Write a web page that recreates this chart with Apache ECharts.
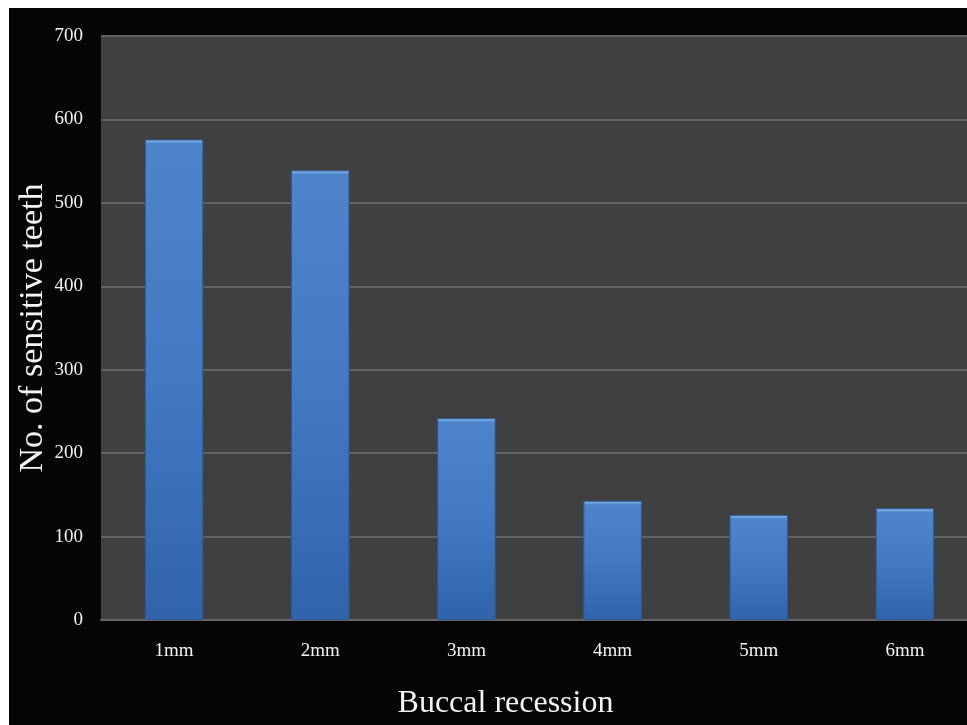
<!DOCTYPE html>
<html>
<head>
<meta charset="utf-8">
<script src="https://cdn.jsdelivr.net/npm/echarts@6/dist/echarts.min.js"></script>
<style>
  html, body { margin: 0; padding: 0; background: #ffffff; width: 967px; height: 725px; overflow: hidden; }
  #chart { position: absolute; left: 9px; top: 8px; width: 980px; height: 717px; background: #050505; }
</style>
</head>
<body>
<div id="chart"></div>
<script>
// Buccal recession categories and number of sensitive teeth in each
const categories = ['1mm', '2mm', '3mm', '4mm', '5mm', '6mm'];
const sensitiveTeeth = [576, 539, 242, 143, 126, 134];
const yTicks = { min: 0, max: 700, step: 100 };

const plotHeight = 584;
const pxPerUnit = plotHeight / (yTicks.max - yTicks.min);

// Bevelled blue bar: light rim at the top, darkening towards the base
function barStyle(v) {
  const h = v * pxPerUnit;
  const rim = Math.min(0.5, 4 / h);
  return {
    color: {
      type: 'linear', x: 0, y: 0, x2: 0, y2: 1,
      colorStops: [
        { offset: 0, color: '#8fbbec' },
        { offset: rim * 0.6, color: '#6d9fdb' },
        { offset: rim, color: '#4d84ca' },
        { offset: 0.5, color: '#4279c2' },
        { offset: 1, color: '#2f64ab' }
      ]
    },
    borderColor: '#2b5a98',
    borderWidth: 1
  };
}

const chart = echarts.init(document.getElementById('chart'), null, { renderer: 'canvas' });
const serif = "'Liberation Serif', 'DejaVu Serif', serif";

chart.setOption({
  backgroundColor: '#050505',
  animation: false,
  grid: {
    left: 92, top: 28, width: 877, height: plotHeight,
    show: true, backgroundColor: '#404040', borderWidth: 0,
    containLabel: false,
    outerBoundsMode: 'none'
  },
  xAxis: {
    type: 'category',
    data: categories,
    name: 'Buccal recession',
    nameLocation: 'middle',
    nameGap: 68,
    nameTextStyle: { color: '#f4f4f4', fontFamily: serif, fontSize: 32, padding: [0, 68, 0, 0] },
    axisLine: { show: true, lineStyle: { color: '#666666', width: 2 } },
    axisTick: { show: false },
    axisLabel: { color: '#f2f2f2', fontFamily: serif, fontSize: 19, margin: 22 }
  },
  yAxis: {
    type: 'value',
    min: yTicks.min, max: yTicks.max, interval: yTicks.step,
    name: 'No. of sensitive teeth',
    nameLocation: 'middle',
    nameGap: 51,
    nameMoveOverlap: false,
    nameTextStyle: { color: '#f4f4f4', fontFamily: serif, fontSize: 34 },
    axisLine: { show: false },
    axisTick: { show: false },
    axisLabel: { color: '#f2f2f2', fontFamily: serif, fontSize: 19, margin: 18 },
    splitLine: { show: true, lineStyle: { color: '#616161', width: 2 } }
  },
  series: [{
    type: 'bar',
    barWidth: '40%',
    data: sensitiveTeeth.map(v => ({ value: v, itemStyle: barStyle(v) }))
  }]
});
</script>
</body>
</html>
